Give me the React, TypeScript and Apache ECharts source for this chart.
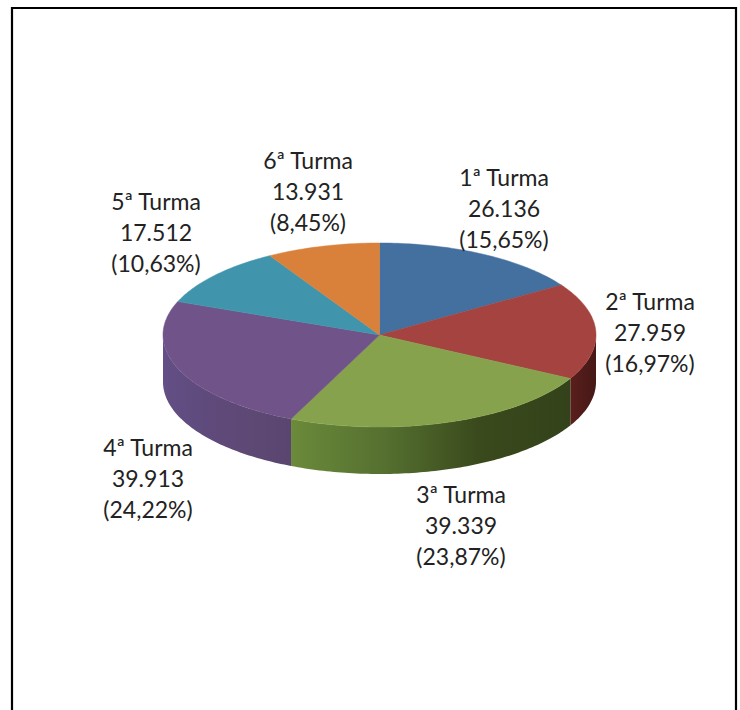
import React, { useEffect, useRef } from "react";
import * as echarts from "echarts";

const categories = ["1ª Turma", "2ª Turma", "3ª Turma", "4ª Turma", "5ª Turma", "6ª Turma"];
const values = [26136, 27959, 39339, 39913, 17512, 13931];
const valueLabels = ["26.136", "27.959", "39.339", "39.913", "17.512", "13.931"];
const percentLabels = ["(15,65%)", "(16,97%)", "(23,87%)", "(24,22%)", "(10,63%)", "(8,45%)"];
const topColors = ["#44709F", "#A4433F", "#87A24C", "#6F5389", "#4095AD", "#D9803A"];
const sideStops = [
  ["#2A4568", "#2A4568"],
  ["#5A1F1C", "#451817"],
  ["#6B8A3A", "#557030", "#3A4A1C", "#33421A"],
  ["#644F86", "#5F4A7C", "#5E4874", "#5A4570"],
  ["#2F6A7C", "#2F6A7C"],
  ["#9A5A28", "#9A5A28"],
];
const labelX = [504, 650, 461, 148, 156, 308];
const labelY = [208, 332, 525, 478, 232, 191];

const CX = 379.5;
const CY = 335;
const RX = 216.5;
const RY = 92;
const DEPTH = 47;
const LINE = 31;

const total = values.reduce((a, b) => a + b, 0);

function rim(deg: number, dy = 0): number[] {
  const r = (deg * Math.PI) / 180;
  return [CX + RX * Math.sin(r), CY - RY * Math.cos(r) + dy];
}

function arc(from: number, to: number, dy = 0): number[][] {
  const pts: number[][] = [];
  const n = Math.max(2, Math.ceil(Math.abs(to - from)));
  for (let i = 0; i <= n; i++) pts.push(rim(from + ((to - from) * i) / n, dy));
  return pts;
}

function renderItem(params: any, api: any) {
  const i = params.dataIndex;
  const before = values.slice(0, i).reduce((a, b) => a + b, 0);
  const start = (before / total) * 360;
  const end = start + (api.value(0) / total) * 360;
  const children: any[] = [];
  const a = Math.max(start, 90);
  const b = Math.min(end, 270);
  if (b > a) {
    const stops = sideStops[i];
    children.push({
      type: "polygon",
      shape: { points: [...arc(a, b), ...arc(b, a, DEPTH)] },
      style: {
        fill: {
          type: "linear",
          x: 0,
          y: 0,
          x2: 1,
          y2: 0,
          colorStops: stops.map((color, k) => ({
            offset: k / (stops.length - 1),
            color,
          })),
        },
      },
      z2: 1,
    });
  }
  children.push({
    type: "polygon",
    shape: { points: [[CX, CY], ...arc(start, end)] },
    style: { fill: topColors[i], stroke: topColors[i], lineWidth: 0.5 },
    z2: 2,
  });
  children.push({
    type: "text",
    x: labelX[i],
    y: labelY[i],
    style: {
      text: [categories[i], valueLabels[i], percentLabels[i]].join("\n"),
      fill: "#222222",
      font: '23px Lato, "Open Sans", sans-serif',
      lineHeight: LINE,
      align: "center",
      verticalAlign: "middle",
    },
    z2: 10,
  });
  return { type: "group", children };
}

export default function App() {
  const ref = useRef<HTMLDivElement>(null);
  useEffect(() => {
    document.body.style.margin = "0";
    const chart = echarts.init(ref.current!, undefined, { renderer: "svg" });
    chart.setOption({
      animation: false,
      backgroundColor: "#FFFFFF",
      graphic: [
        {
          type: "polyline",
          shape: { points: [[12, 710], [12, 8], [736, 8], [736, 710]] },
          style: { fill: "none", stroke: "#000000", lineWidth: 2.2 },
        },
      ],
      series: [
        {
          type: "custom",
          coordinateSystem: "none",
          silent: true,
          data: values.map((v, i) => ({ name: categories[i], value: [v] })),
          renderItem,
        },
      ],
    });
    return () => chart.dispose();
  }, []);
  return <div ref={ref} style={{ width: 740, height: 710 }} />;
}
